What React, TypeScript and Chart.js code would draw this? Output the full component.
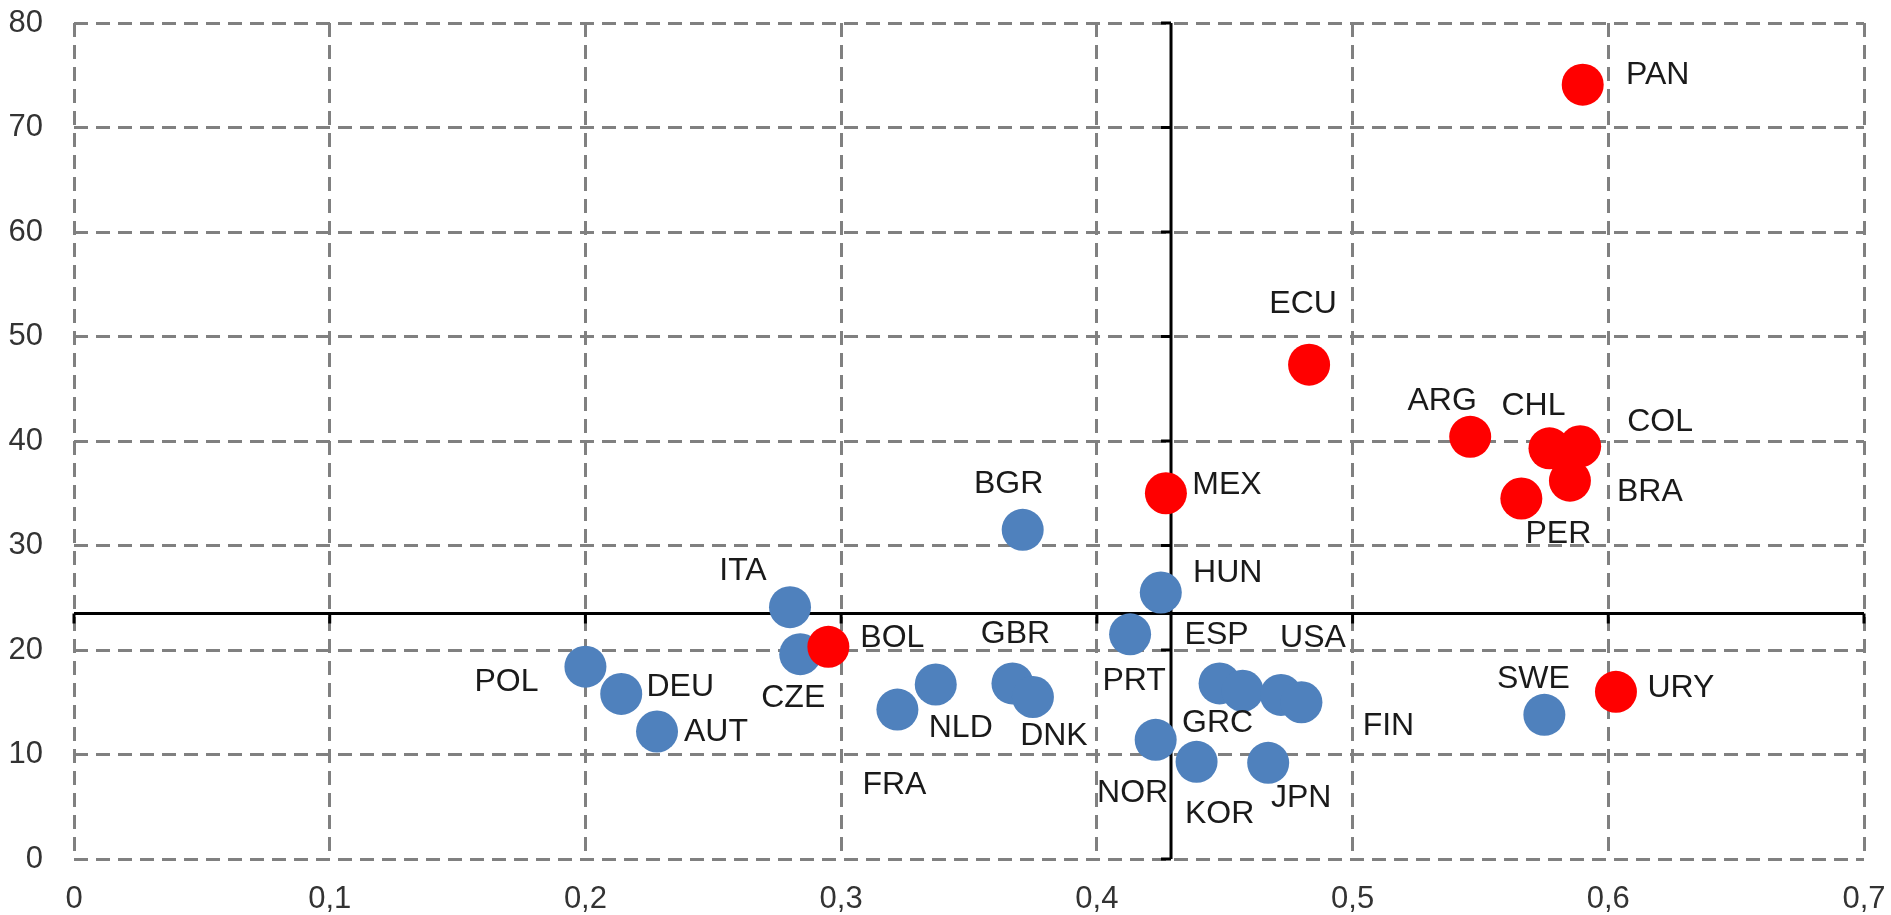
import React, { useEffect, useRef } from 'react';
import { Chart, registerables } from 'chart.js';

Chart.register(...registerables);

// ---- Data ----
const blueCountries = ['POL', 'DEU', 'AUT', 'ITA', 'CZE', 'FRA', 'NLD', 'GBR', 'DNK', 'BGR', 'PRT', 'HUN', 'NOR', 'ESP', 'GRC', 'USA', 'FIN', 'KOR', 'JPN', 'SWE'];
const blueX = [0.200, 0.214, 0.228, 0.280, 0.284, 0.322, 0.337, 0.367, 0.375, 0.371, 0.413, 0.425, 0.423, 0.448, 0.457, 0.472, 0.480, 0.439, 0.467, 0.575];
const blueY = [18.4, 15.8, 12.2, 24.1, 19.6, 14.3, 16.7, 16.8, 15.5, 31.5, 21.5, 25.5, 11.4, 16.8, 16.1, 15.7, 15.0, 9.3, 9.2, 13.8];

const redCountries = ['BOL', 'MEX', 'ECU', 'ARG', 'CHL', 'COL', 'BRA', 'PER', 'PAN', 'URY'];
const redX = [0.295, 0.427, 0.483, 0.546, 0.577, 0.589, 0.585, 0.566, 0.590, 0.603];
const redY = [20.3, 35.0, 47.3, 40.4, 39.3, 39.5, 36.2, 34.5, 74.1, 16.0];

const xTicks = [0, 0.1, 0.2, 0.3, 0.4, 0.5, 0.6, 0.7];
const yTicks = [0, 10, 20, 30, 40, 50, 60, 70, 80];

const crossX = 0.429;
const crossY = 23.5;

// label placement relative to the marker centre (pixels)
const labelOffsets: Record<string, [number, number]> = {
  PAN: [75, -9], ECU: [-6, -61], ARG: [-28, -36], CHL: [-16, -42], COL: [80, -24],
  BRA: [80, 11], PER: [37, 36], MEX: [61, -8], BGR: [-14, -46], HUN: [67, -19],
  ITA: [-47, -36], BOL: [64, -9], GBR: [3, -49], ESP: [-3, -48], USA: [32, -57],
  PRT: [4, 47], POL: [-79, 15], DEU: [59, -7], CZE: [-7, 44], AUT: [59, 1],
  NLD: [25, 44], DNK: [21, 39], FRA: [-3, 76], GRC: [-25, 32], FIN: [87, 24],
  NOR: [-23, 53], KOR: [23, 52], JPN: [33, 35], SWE: [-11, -36], URY: [65, -4],
};

const FONT = "'Liberation Sans', Arial, sans-serif";

const crossPlugin = {
  id: 'crossLines',
  beforeDatasetsDraw(chart: any) {
    const { ctx, chartArea, scales } = chart;
    const x = scales.x;
    const y = scales.y;
    const px = x.getPixelForValue(crossX);
    const py = y.getPixelForValue(crossY);
    ctx.save();
    ctx.strokeStyle = '#000000';
    ctx.lineWidth = 3;
    ctx.setLineDash([]);
    ctx.beginPath();
    ctx.moveTo(chartArea.left, py);
    ctx.lineTo(chartArea.right, py);
    ctx.moveTo(px, chartArea.top);
    ctx.lineTo(px, chartArea.bottom);
    xTicks.forEach((v) => {
      const tx = x.getPixelForValue(v);
      ctx.moveTo(tx, py);
      ctx.lineTo(tx, py + 10);
    });
    yTicks.forEach((v) => {
      const ty = y.getPixelForValue(v);
      ctx.moveTo(px, ty);
      ctx.lineTo(px - 10, ty);
    });
    ctx.stroke();
    ctx.restore();
  },
};

const labelPlugin = {
  id: 'pointLabels',
  afterDatasetsDraw(chart: any) {
    const { ctx } = chart;
    ctx.save();
    ctx.font = `32px ${FONT}`;
    ctx.fillStyle = '#1a1a1a';
    ctx.textAlign = 'center';
    ctx.textBaseline = 'middle';
    chart.data.datasets.forEach((ds: any, di: number) => {
      const meta = chart.getDatasetMeta(di);
      meta.data.forEach((el: any, i: number) => {
        const name = ds.names[i];
        const off = labelOffsets[name] || [0, -30];
        ctx.fillText(name, el.x + off[0], el.y + off[1]);
      });
    });
    ctx.restore();
  },
};

const zeroPadding = (s: any) => {
  s.paddingTop = 0;
  s.paddingBottom = 0;
  s.paddingLeft = 0;
  s.paddingRight = 0;
};

export default function App() {
  const canvasRef = useRef<HTMLCanvasElement | null>(null);

  useEffect(() => {
    document.body.style.margin = '0';
    const canvas = canvasRef.current;
    if (!canvas) return;
    const chart = new Chart(canvas, {
      type: 'scatter',
      data: {
        datasets: [
          {
            label: 'red',
            names: redCountries,
            data: redX.map((v, i) => ({ x: v, y: redY[i] })),
            backgroundColor: '#FF0000',
            borderWidth: 0,
            pointRadius: 21,
            pointHoverRadius: 21,
          } as any,
          {
            label: 'blue',
            names: blueCountries,
            data: blueX.map((v, i) => ({ x: v, y: blueY[i] })),
            backgroundColor: '#4F81BD',
            borderWidth: 0,
            pointRadius: 21,
            pointHoverRadius: 21,
          } as any,
        ],
      },
      options: {
        animation: false,
        responsive: false,
        devicePixelRatio: 1,
        layout: { padding: { top: 23, right: 27, left: 0, bottom: 0 } },
        plugins: { legend: { display: false }, tooltip: { enabled: false } },
        scales: {
          x: {
            type: 'linear',
            min: 0,
            max: 0.7,
            afterBuildTicks: (s: any) => {
              s.ticks = xTicks.map((v) => ({ value: v }));
            },
            afterFit: (s: any) => {
              s.height = 56;
              zeroPadding(s);
            },
            ticks: {
              padding: 22,
              color: '#333333',
              font: { family: FONT, size: 31 },
              maxRotation: 0,
              callback: (v: any) => (v === 0 ? '0' : Number(v).toFixed(1).replace('.', ',')),
            },
            grid: { color: '#808080', lineWidth: 3, drawTicks: false },
            border: { display: false, dash: [14, 8] },
          },
          y: {
            type: 'linear',
            min: 0,
            max: 80,
            afterBuildTicks: (s: any) => {
              s.ticks = yTicks.map((v) => ({ value: v }));
            },
            afterFit: (s: any) => {
              s.width = 74;
              zeroPadding(s);
            },
            ticks: {
              padding: 31,
              color: '#333333',
              font: { family: FONT, size: 31 },
              callback: (v: any) => String(v),
            },
            grid: { color: '#808080', lineWidth: 3, drawTicks: false },
            border: { display: false, dash: [14, 8] },
          },
        },
      },
      plugins: [crossPlugin, labelPlugin],
    } as any);
    return () => chart.destroy();
  }, []);

  return (
    <div style={{ width: 1891, height: 915, background: '#ffffff' }}>
      <canvas ref={canvasRef} width={1891} height={915} style={{ display: 'block' }} />
    </div>
  );
}
